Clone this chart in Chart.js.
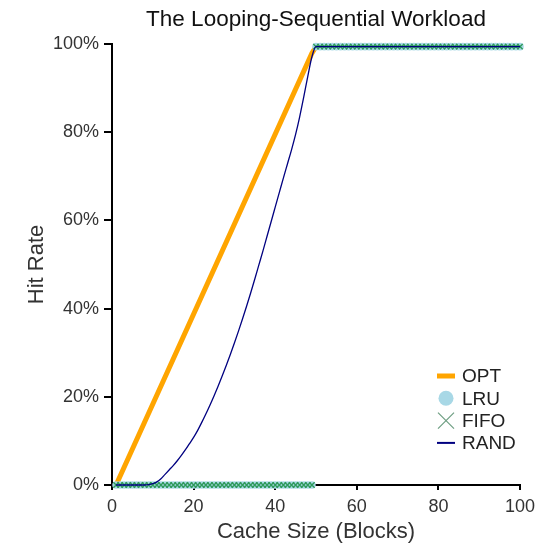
<!DOCTYPE html>
<html>
<head>
<meta charset="utf-8">
<script src="https://cdn.jsdelivr.net/npm/chart.js@4.4.1/dist/chart.umd.min.js"></script>
<style>
html, body { margin: 0; padding: 0; background: #fff; }
</style>
</head>
<body>
<canvas id="chart" width="546" height="547"></canvas>
<script>
var titleText = 'The Looping-Sequential Workload';
var legendNames = ['OPT', 'LRU', 'FIFO', 'RAND'];

var cacheSizes = [1, 2, 3, 4, 5, 6, 7, 8, 9, 10, 11, 12, 13, 14, 15, 16, 17, 18, 19, 20,
    21, 22, 23, 24, 25, 26, 27, 28, 29, 30, 31, 32, 33, 34, 35, 36, 37, 38, 39, 40,
    41, 42, 43, 44, 45, 46, 47, 48, 49, 50, 51, 52, 53, 54, 55, 56, 57, 58, 59, 60,
    61, 62, 63, 64, 65, 66, 67, 68, 69, 70, 71, 72, 73, 74, 75, 76, 77, 78, 79, 80,
    81, 82, 83, 84, 85, 86, 87, 88, 89, 90, 91, 92, 93, 94, 95, 96, 97, 98, 99, 100];

var lruHitRate = [0, 0, 0, 0, 0, 0, 0, 0, 0, 0, 0, 0, 0, 0, 0, 0, 0, 0, 0, 0,
    0, 0, 0, 0, 0, 0, 0, 0, 0, 0, 0, 0, 0, 0, 0, 0, 0, 0, 0, 0,
    0, 0, 0, 0, 0, 0, 0, 0, 0, 99.4, 99.4, 99.4, 99.4, 99.4, 99.4, 99.4, 99.4, 99.4, 99.4, 99.4,
    99.4, 99.4, 99.4, 99.4, 99.4, 99.4, 99.4, 99.4, 99.4, 99.4, 99.4, 99.4, 99.4, 99.4, 99.4, 99.4, 99.4, 99.4, 99.4, 99.4,
    99.4, 99.4, 99.4, 99.4, 99.4, 99.4, 99.4, 99.4, 99.4, 99.4, 99.4, 99.4, 99.4, 99.4, 99.4, 99.4, 99.4, 99.4, 99.4, 99.4];

var fifoHitRate = [0, 0, 0, 0, 0, 0, 0, 0, 0, 0, 0, 0, 0, 0, 0, 0, 0, 0, 0, 0,
    0, 0, 0, 0, 0, 0, 0, 0, 0, 0, 0, 0, 0, 0, 0, 0, 0, 0, 0, 0,
    0, 0, 0, 0, 0, 0, 0, 0, 0, 99.4, 99.4, 99.4, 99.4, 99.4, 99.4, 99.4, 99.4, 99.4, 99.4, 99.4,
    99.4, 99.4, 99.4, 99.4, 99.4, 99.4, 99.4, 99.4, 99.4, 99.4, 99.4, 99.4, 99.4, 99.4, 99.4, 99.4, 99.4, 99.4, 99.4, 99.4,
    99.4, 99.4, 99.4, 99.4, 99.4, 99.4, 99.4, 99.4, 99.4, 99.4, 99.4, 99.4, 99.4, 99.4, 99.4, 99.4, 99.4, 99.4, 99.4, 99.4];

var randHitRate = [0, 0, 0, 0, 0, 0, 0, 0, 0.1, 0.3, 0.7, 1.4, 2.4, 3.4, 4.4, 5.5, 6.7, 8.0, 9.4, 10.8,
    12.4, 14.2, 16.1, 18.1, 20.2, 22.4, 24.7, 27.1, 29.6, 32.2, 34.9, 37.7, 40.6, 43.6, 46.7, 49.9, 53.1, 56.4, 59.7, 63.0,
    66.3, 69.6, 72.8, 76.0, 79.5, 83.5, 88.0, 92.7, 97.1, 99.4, 99.4, 99.4, 99.4, 99.4, 99.4, 99.4, 99.4, 99.4, 99.4, 99.4,
    99.4, 99.4, 99.4, 99.4, 99.4, 99.4, 99.4, 99.4, 99.4, 99.4, 99.4, 99.4, 99.4, 99.4, 99.4, 99.4, 99.4, 99.4, 99.4, 99.4,
    99.4, 99.4, 99.4, 99.4, 99.4, 99.4, 99.4, 99.4, 99.4, 99.4, 99.4, 99.4, 99.4, 99.4, 99.4, 99.4, 99.4, 99.4, 99.4, 99.4];

var optSizes = [1, 49, 50, 100];
var optHitRate = [0, 97.9, 99.4, 99.4];

var xTicks = [0, 20, 40, 60, 80, 100];
var yTicks = [0, 20, 40, 60, 80, 100];

function pairs(xs, ys) {
    return xs.map(function (x, i) { return { x: x, y: ys[i] }; });
}

var fontFamily = "'Liberation Sans', Arial, Helvetica, sans-serif";
var colors = { opt: '#ffa500', lru: '#a8d8e6', fifo: '#2e9a5a', rand: '#000080' };

// title and legend are drawn by hand so they sit where the original puts them
var decorations = {
    id: 'decorations',
    afterDraw: function (chart) {
        var ctx = chart.ctx;
        var area = chart.chartArea;
        ctx.save();
        ctx.fillStyle = '#111';
        ctx.font = '22.5px ' + fontFamily;
        ctx.textAlign = 'center';
        ctx.textBaseline = 'middle';
        ctx.fillText(titleText, (area.left + area.right) / 2, 20);

        var sx = 446, tx = 462, y0 = 376, dy = 22.3;
        ctx.font = '19px ' + fontFamily;
        ctx.textAlign = 'left';
        for (var i = 0; i < legendNames.length; i++) {
            var y = y0 + i * dy;
            if (i == 0) {
                ctx.fillStyle = colors.opt;
                ctx.fillRect(sx - 9, y - 2.5, 18, 5);
            } else if (i == 1) {
                ctx.fillStyle = colors.lru;
                ctx.beginPath();
                ctx.arc(sx, y, 7.5, 0, Math.PI * 2);
                ctx.fill();
            } else if (i == 2) {
                ctx.strokeStyle = '#6e9e82';
                ctx.lineWidth = 1.2;
                ctx.beginPath();
                ctx.moveTo(sx - 8, y - 8); ctx.lineTo(sx + 8, y + 8);
                ctx.moveTo(sx + 8, y - 8); ctx.lineTo(sx - 8, y + 8);
                ctx.stroke();
            } else {
                ctx.strokeStyle = colors.rand;
                ctx.lineWidth = 2;
                ctx.beginPath();
                ctx.moveTo(sx - 9, y); ctx.lineTo(sx + 9, y);
                ctx.stroke();
            }
            ctx.fillStyle = '#222';
            ctx.fillText(legendNames[i], tx, y + 1);
        }
        ctx.restore();
    }
};

Chart.defaults.font.family = fontFamily;
Chart.defaults.color = '#333';

new Chart(document.getElementById('chart'), {
    type: 'scatter',
    data: {
        datasets: [
            {
                label: 'RAND',
                data: pairs(cacheSizes, randHitRate),
                showLine: true,
                borderColor: colors.rand,
                borderWidth: 1.3,
                pointRadius: 0,
                cubicInterpolationMode: 'monotone',
                clip: false,
                order: 1
            },
            {
                label: 'FIFO',
                data: pairs(cacheSizes, fifoHitRate),
                pointStyle: 'crossRot',
                pointRadius: 3.8,
                borderColor: colors.fifo,
                borderWidth: 1.4,
                clip: false,
                order: 2
            },
            {
                label: 'LRU',
                data: pairs(cacheSizes, lruHitRate),
                pointStyle: 'circle',
                pointRadius: 3.8,
                backgroundColor: colors.lru,
                borderColor: colors.lru,
                borderWidth: 0,
                clip: false,
                order: 3
            },
            {
                label: 'OPT',
                data: pairs(optSizes, optHitRate),
                showLine: true,
                borderColor: colors.opt,
                borderWidth: 5,
                pointRadius: 0,
                clip: false,
                order: 4
            }
        ]
    },
    options: {
        responsive: false,
        animation: false,
        devicePixelRatio: 1,
        layout: { padding: { top: 44, right: 26, bottom: 0, left: 0 } },
        plugins: {
            legend: { display: false },
            title: { display: false },
            tooltip: { enabled: false }
        },
        scales: {
            x: {
                type: 'linear',
                min: 0,
                max: 100,
                afterBuildTicks: function (scale) {
                    scale.ticks = xTicks.map(function (v) { return { value: v }; });
                },
                afterFit: function (scale) { scale.height = 62; },
                grid: { drawOnChartArea: false, drawTicks: true, tickLength: 5, color: '#000', lineWidth: 2 },
                border: { display: true, color: '#000', width: 2 },
                ticks: { font: { size: 18 }, padding: 6, color: '#333', maxRotation: 0 },
                title: {
                    display: true,
                    text: 'Cache Size (Blocks)',
                    font: { size: 22 },
                    color: '#333',
                    padding: { top: 0, bottom: 2 }
                }
            },
            y: {
                min: 0,
                max: 100,
                afterBuildTicks: function (scale) {
                    scale.ticks = yTicks.map(function (v) { return { value: v }; });
                },
                afterFit: function (scale) { scale.width = 112; },
                grid: { drawOnChartArea: false, drawTicks: true, tickLength: 8, color: '#000', lineWidth: 2 },
                border: { display: true, color: '#000', width: 2 },
                ticks: {
                    font: { size: 18 },
                    padding: 5,
                    color: '#333',
                    callback: function (v) { return v + '%'; }
                },
                title: {
                    display: true,
                    text: 'Hit Rate',
                    font: { size: 22 },
                    color: '#333',
                    padding: { top: 24, bottom: 0 }
                }
            }
        }
    },
    plugins: [decorations]
});
</script>
</body>
</html>
